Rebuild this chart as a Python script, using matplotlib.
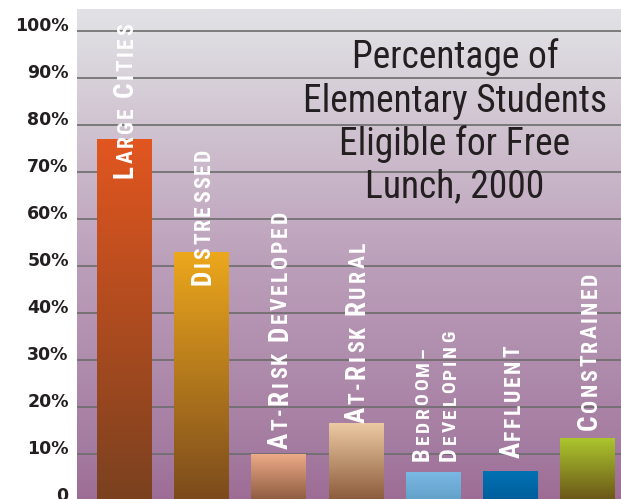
import numpy as np
import matplotlib
matplotlib.use("Agg")
import matplotlib.pyplot as plt
from matplotlib import font_manager, transforms
from matplotlib.font_manager import FontProperties
from matplotlib.ft2font import FT2Font
from matplotlib.colors import LinearSegmentedColormap

# ---------------- data ----------------
categories = ["Large Cities", "Distressed", "At-Risk Developed", "At-Risk Rural",
              "Bedroom–Developing", "Affluent", "Constrained"]
values = [77, 53, 10, 16.5, 6.2, 6.4, 13.4]
label_lines = [["Large Cities"], ["Distressed"], ["At-Risk Developed"], ["At-Risk Rural"],
               ["Bedroom–", "Developing"], ["Affluent"], ["Constrained"]]
ytick_values = [0, 10, 20, 30, 40, 50, 60, 70, 80, 90, 100]
ytick_labels = ["0", "10%", "20%", "30%", "40%", "50%", "60%", "70%", "80%", "90%", "100%"]
title_lines = ["Percentage of", "Elementary Students", "Eligible for Free", "Lunch, 2000"]

# ---------------- style ----------------
bar_top_colors = ["#e2561f", "#eda81c", "#ecaa88", "#ecc9a3", "#7bb9e6", "#0072b3", "#abc62d"]
bar_bot_colors = ["#7a4120", "#7a4a1d", "#8c5a3e", "#8a5a3a", "#62a0c8", "#005d9b", "#6a5418"]
label_start = [68.7, 46.0, 11.1, 16.6, 8.6, 9.1, 15.1]      # where label text begins (y units)
label_scale = [1, 1, 1, 1, 0.9, 1, 1]
label_track_pt = [1.8, 1.8, 2.0, 2.0, 2.0, 1.8, 1.8]
label_xoff_px = [[8.5], [8.5], [8.5], [8.5], [-4.5, 22.5], [9.5], [9.5]]

names = {f.name for f in font_manager.fontManager.ttflist}
def pick(*cands):
    for c in cands:
        if c in names:
            return c
    return "DejaVu Sans"

COND = pick("Roboto Condensed", "Open Sans Condensed", "Fira Sans Condensed", "PT Sans Narrow")
DPI = 100
W, H = 621, 499
fig = plt.figure(figsize=(W / DPI, H / DPI), dpi=DPI, facecolor="white")

ax_left, ax_right, ax_top, ax_bottom = 77, 621, 9, 501
ax = fig.add_axes([ax_left / W, 1 - ax_bottom / H, (ax_right - ax_left) / W, (ax_bottom - ax_top) / H])

bg = LinearSegmentedColormap.from_list("bg", [
    (0.0, "#9d6c95"), (0.10, "#a47ba0"), (0.48, "#bb9fba"),
    (0.76, "#d0c3d0"), (0.95, "#dedde2"), (1.0, "#e2e2e6")])
grad = np.linspace(0, 1, 256).reshape(-1, 1)
ax.imshow(grad, extent=[0, 1, 0, 1], transform=ax.transAxes, origin="lower",
          aspect="auto", cmap=bg, zorder=0, interpolation="bilinear")

x = np.arange(len(categories))
bars = ax.bar(x, values, width=0.71, facecolor="none", edgecolor="none", zorder=2)
for b, ctop, cbot in zip(bars, bar_top_colors, bar_bot_colors):
    cm = LinearSegmentedColormap.from_list("b", [cbot, ctop])
    x0, w, h = b.get_x(), b.get_width(), b.get_height()
    im = ax.imshow(grad, extent=[x0, x0 + w, 0, h], origin="lower", aspect="auto",
                   cmap=cm, zorder=2, interpolation="bilinear")
    im.set_clip_path(b)

ax.set_xlim(-0.613, 6.434)
ax.set_ylim(0, 104.7)
ax.set_axisbelow(True)
ax.yaxis.grid(True, color="#6c6c6c", linewidth=1.2)
ax.set_yticks(ytick_values)
ax.set_yticklabels(ytick_labels, fontsize=12.5, fontweight="bold", color="#231f20",
                   family="DejaVu Sans")
for t in ax.get_yticklabels():
    t.set_va("baseline")
ax.tick_params(axis="y", length=0, pad=6)
ax.set_xticks([])
for s in ax.spines.values():
    s.set_visible(False)

# ---------------- small-caps vertical labels ----------------
_fonts = {}
def advance(ch, fp):
    path = font_manager.findfont(fp)
    if path not in _fonts:
        _fonts[path] = FT2Font(path)
    f = _fonts[path]
    f.set_size(fp.get_size_in_points(), 72)
    g = f.load_char(ord(ch))
    return g.linearHoriAdvance / 65536.0

def smallcaps(s):
    out = []
    prev = " "
    for ch in s:
        big = ch.isalpha() and (prev in " -")
        out.append((ch.upper(), big))
        prev = ch
    return out

BIG_PT, SMALL_PT = 19.5, 15.6
for i, lines in enumerate(label_lines):
    sc = label_scale[i]
    fb = FontProperties(family=COND, weight="bold", size=BIG_PT * sc)
    fs = FontProperties(family=COND, weight="bold", size=SMALL_PT * sc)
    for line, xo in zip(lines, label_xoff_px[i]):
        pos = 0.0
        for ch, big in smallcaps(line):
            fp = fb if big else fs
            if ch != " ":
                tr = transforms.offset_copy(ax.transData, fig=fig, x=xo * 72 / DPI, y=pos, units="points")
                ax.text(x[i], label_start[i], ch, rotation=90, rotation_mode="anchor",
                        ha="left", va="baseline", fontproperties=fp, color="white",
                        transform=tr, zorder=3)
            pos += advance(ch, fp) + label_track_pt[i]

# ---------------- title ----------------
title_base_px = [68, 112, 155, 197]
for line, yb in zip(title_lines, title_base_px):
    fig.text(455 / W, 1 - yb / H, line, ha="center", va="baseline",
             fontsize=27, family=COND, color="#231f20")

fig.savefig("out.png", dpi=DPI, facecolor="white")
